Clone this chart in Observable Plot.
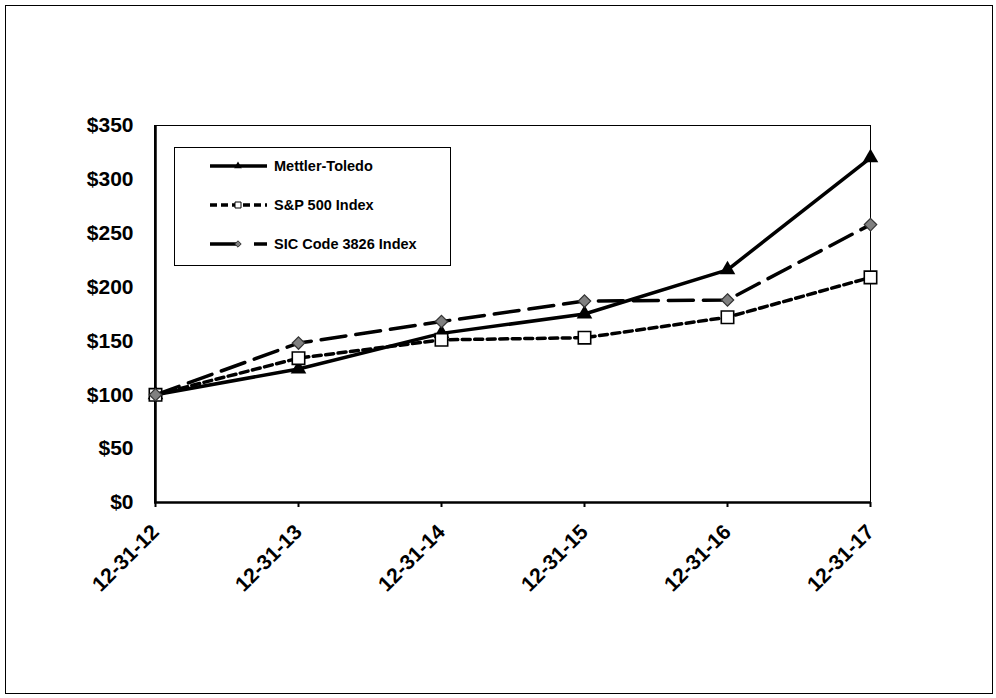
<!DOCTYPE html>
<html><head><meta charset="utf-8">
<script src="https://cdn.jsdelivr.net/npm/d3@7"></script>
<script src="https://cdn.jsdelivr.net/npm/@observablehq/plot@0.6"></script>
<style>
body{margin:0;background:#fff;font-family:Arial,"Liberation Sans",sans-serif;}
#wrap{position:relative;width:996px;height:698px;overflow:hidden;}
#border{position:absolute;left:5px;top:5px;width:986px;height:687px;border:1px solid #000;pointer-events:none;}
#legend{position:absolute;left:174px;top:147px;width:277px;height:119px;border:1px solid #000;background:#fff;box-sizing:border-box;}
.lrow{position:absolute;left:35px;height:20px;display:flex;align-items:center;font-weight:bold;font-size:14.5px;color:#000;white-space:nowrap;}
.lrow svg{margin-right:6px;}
</style></head><body>
<div id="wrap"><div id="chart"></div><div id="border"></div><div id="legend"></div></div>
<script>
const dates = ["12-31-12","12-31-13","12-31-14","12-31-15","12-31-16","12-31-17"];
const mettler = [100,124,157,175,216,320];
const sp500 = [100,134,151,153,172,209];
const sic = [100,148,168,187,188,258];
const seriesNames = ["Mettler-Toledo","S&P 500 Index","SIC Code 3826 Index"];
const yTicks = [0,50,100,150,200,250,300,350];

const seriesValues = [mettler, sp500, sic];
const styles = [
  {dash:null, symbol:"triangle", fill:"#000", stroke:"#000", r:5.8, sw:0, legendDash:null},
  {dash:"8,4.5", symbol:"square", fill:"#fff", stroke:"#000", r:7, sw:1.6, legendDash:"7,4"},
  {dash:"25,10", symbol:"diamond2", fill:"#808080", stroke:"#333", r:5.6, sw:1.2, legendDash:"27,17,14"}
];

const marks = [
  Plot.frame({stroke:"#000", strokeWidth:1}),
  Plot.ruleY([0], {stroke:"#000", strokeWidth:2.5}),
  Plot.ruleX([dates[0]], {stroke:"#000", strokeWidth:2.5}),
  Plot.axisY({ticks:yTicks, tickFormat:d=>"$"+d, tickSize:0, tickPadding:21, fontSize:21, fontWeight:"bold", label:null}),
  Plot.axisX({tickSize:5, strokeWidth:2, tickFormat:()=>"", label:null}),
  Plot.axisX({tickRotate:-45, tickSize:0, tickPadding:4, dy:22, dx:0, fontSize:21, fontWeight:"bold", label:null})
];
seriesValues.forEach((vals, i) => {
  const data = dates.map((d, j) => ({date:d, value:vals[j]}));
  const s = styles[i];
  marks.push(Plot.line(data, {x:"date", y:"value", stroke:"#000", strokeWidth:3.5, strokeDasharray:s.dash, curve:"linear"}));
  marks.push(Plot.dot(data, {x:"date", y:"value", symbol:()=>s.symbol, fill:s.fill, stroke:s.stroke, strokeWidth:s.sw, r:s.r}));
});

const chart = Plot.plot({
  width:996, height:698,
  marginLeft:154, marginRight:126, marginTop:125, marginBottom:196,
  style:{fontFamily:"Arial, 'Liberation Sans', sans-serif", fontWeight:"bold", color:"#000", background:"#fff"},
  x:{type:"point", domain:dates, padding:0},
  y:{domain:[0,350]},
  symbol:{type:"identity"},
  marks
});
document.getElementById("chart").appendChild(chart);

// Legend
const legend = document.getElementById("legend");
const rowTops = [8, 47, 86];
seriesNames.forEach((name, i) => {
  const s = styles[i];
  const row = document.createElement("div");
  row.className = "lrow";
  row.style.top = rowTops[i] + "px";
  const svg = d3.create("svg").attr("width", 58).attr("height", 20);
  svg.append("line").attr("x1", 0).attr("x2", 57).attr("y1", 10).attr("y2", 10)
    .attr("stroke", "#000").attr("stroke-width", 3.5)
    .attr("stroke-dasharray", s.legendDash);
  const sym = d3.symbol().type(s.symbol === "triangle" ? d3.symbolTriangle : s.symbol === "square" ? d3.symbolSquare : d3.symbolDiamond2)
    .size(i === 1 ? 36 : 26);
  svg.append("path").attr("d", sym()).attr("transform", "translate(28,10)")
    .attr("fill", s.fill).attr("stroke", s.stroke).attr("stroke-width", i === 0 ? 0 : 1);
  row.appendChild(svg.node());
  const t = document.createElement("span");
  t.textContent = name;
  row.appendChild(t);
  legend.appendChild(row);
});
</script>
</body></html>
